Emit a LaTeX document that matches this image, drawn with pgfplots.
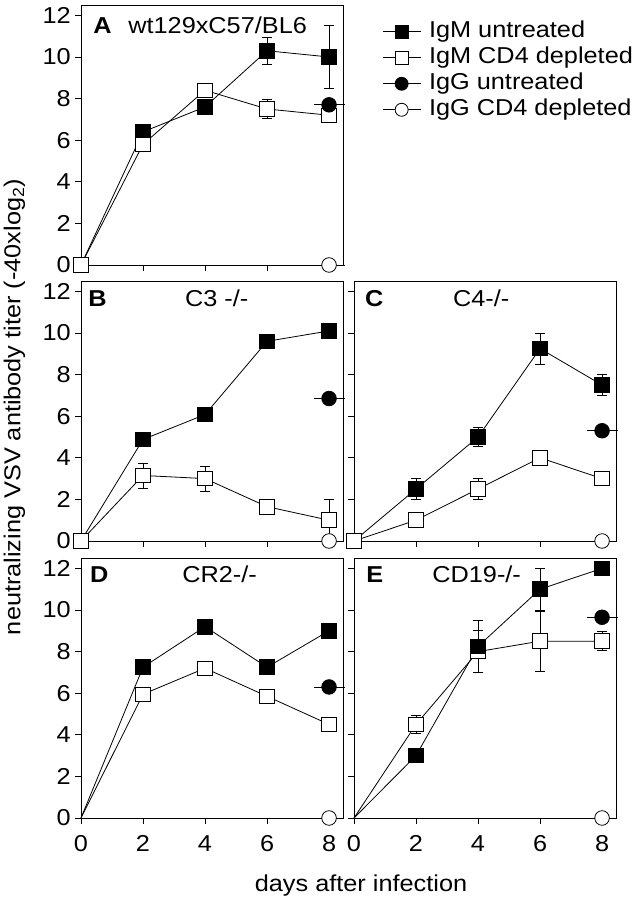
\documentclass[border=0pt]{standalone}
\usepackage{fontspec}
\setmainfont[FakeStretch=1.1]{Liberation Sans}
\usepackage{pgfplots}
\pgfplotsset{compat=1.18}
\newcommand{\fs}{\fontsize{23}{26}\selectfont}
\newcommand{\ft}{\fontsize{23}{26}\selectfont}
\pgfplotsset{
 panel/.style={
  scale only axis, width=262pt, height=260pt,
  xmin=0, xmax=8.45, ymin=0, ymax=12.5,
  xtick={0,2,4,6,8}, ytick={0,2,4,6,8,10,12},
  tick align=outside, tick pos=left, major tick length=6pt,
  clip=false,
  axis line style={line width=0.8pt},
  every tick/.style={black, line width=0.8pt},
  /pgf/number format/assume math mode=true,
  tick label style={font=\fs},
  xticklabel style={inner sep=0pt, yshift=-11pt},
  yticklabel style={inner sep=0pt, xshift=-4pt},
 },
 fsq/.style={black, line width=0.8pt, mark=square*, mark size=7.3pt, mark options={solid, fill=black, line width=0.8pt}},
 osq/.style={black, line width=0.8pt, mark=square*, mark size=7.3pt, mark options={solid, fill=white, line width=0.8pt}},
 fci/.style={black, line width=0.8pt, mark=*, mark size=7.3pt, mark options={solid, fill=black, line width=0.8pt}},
 oci/.style={black, line width=0.8pt, mark=*, mark size=7.3pt, mark options={solid, fill=white, line width=0.8pt}},
 eb/.style={error bars/.cd, y dir=both, y explicit, error bar style={line width=0.8pt, black}, error mark options={rotate=90, mark size=5pt, line width=0.8pt, black}, /pgfplots/.cd},
 hb/.style={error bars/.cd, x dir=both, x fixed=0.5, error mark=none, error bar style={line width=0.8pt, black}, /pgfplots/.cd},
}
\begin{document}
\begin{tikzpicture}
\useasboundingbox (0,0) rectangle (638pt,899pt);
% Panel A
\begin{axis}[panel, at={(81pt,634pt)}, anchor=south west, xticklabels={},
  legend style={draw=none, fill=none, at={(1.149,0.747)}, anchor=west, font=\fs, row sep=3pt, column sep=8pt, inner sep=0pt, nodes={inner sep=0pt, text height=17pt, text depth=6pt}, cells={anchor=west}},
  legend image code/.code={\draw[mark repeat=2,mark phase=2,#1,mark size=6.5pt] plot coordinates {(0pt,0pt) (19pt,0pt) (38pt,0pt)};}]
\addplot[fsq, eb] coordinates {(0,0) +- (0,0) (2,6.4) +- (0,0) (4,7.6) +- (0,0) (6,10.3) +- (0,0.65) (8,10.0) +- (0,1.5)};
\addlegendentry{IgM untreated}
\addplot[osq, eb] coordinates {(0,0) +- (0,0) (2,5.8) +- (0,0) (4,8.4) +- (0,0) (6,7.5) +- (0,0.45) (8,7.2) +- (0,0)};
\addlegendentry{IgM CD4 depleted}
\addplot[fci, hb] coordinates {(8,7.7)};
\addlegendentry{IgG untreated}
\addplot[oci, hb] coordinates {(8,0)};
\addlegendentry{IgG CD4 depleted}
\node[anchor=base west, inner sep=0pt, font=\ft] at (axis cs:0.39,11.15) {\textbf{A}};
\node[anchor=base west, inner sep=0pt, font=\ft] at (axis cs:1.52,11.15) {wt129xC57/BL6};
\end{axis}
% Panel B
\begin{axis}[panel, at={(81pt,358pt)}, anchor=south west, xticklabels={}]
\addplot[fsq] coordinates {(0,0) (2,4.88) (4,6.08) (6,9.6) (8,10.1)};
\addplot[osq, eb] coordinates {(0,0) +- (0,0) (2,3.15) +- (0,0.6) (4,3.0) +- (0,0.6) (6,1.65) +- (0,0) (8,1.0) +- (0,1.0)};
\addplot[fci, hb] coordinates {(8,6.85)};
\addplot[oci] coordinates {(8,0)};
\node[anchor=base west, inner sep=0pt, font=\ft] at (axis cs:0.23,11.25) {\textbf{B}};
\node[anchor=base west, inner sep=0pt, font=\ft] at (axis cs:3.35,11.25) {C3 -/-};
\end{axis}
% Panel C
\begin{axis}[panel, at={(354pt,358pt)}, anchor=south west, xticklabels={}, yticklabels={}]
\addplot[fsq, eb] coordinates {(0,0) +- (0,0) (2,2.5) +- (0,0.5) (4,5.0) +- (0,0.45) (6,9.25) +- (0,0.75) (8,7.5) +- (0,0.5)};
\addplot[osq, eb] coordinates {(0,0) +- (0,0) (2,1.0) +- (0,0) (4,2.5) +- (0,0.5) (6,4.0) +- (0,0) (8,3.0) +- (0,0)};
\addplot[fci, hb] coordinates {(8,5.3)};
\addplot[oci] coordinates {(8,0)};
\node[anchor=base west, inner sep=0pt, font=\ft] at (axis cs:0.35,11.25) {\textbf{C}};
\node[anchor=base west, inner sep=0pt, font=\ft] at (axis cs:3.19,11.25) {C4-/-};
\end{axis}
% Panel D
\begin{axis}[panel, at={(81pt,81pt)}, anchor=south west]
\addplot[fsq, mark indices={2,3,4,5}] coordinates {(0,0) (2,7.25) (4,9.2) (6,7.25) (8,9.0)};
\addplot[osq, mark indices={2,3,4,5}] coordinates {(0,0) (2,5.95) (4,7.2) (6,5.85) (8,4.5)};
\addplot[fci, hb] coordinates {(8,6.3)};
\addplot[oci] coordinates {(8,0)};
\node[anchor=base west, inner sep=0pt, font=\ft] at (axis cs:0.29,11.3) {\textbf{D}};
\node[anchor=base west, inner sep=0pt, font=\ft] at (axis cs:3.26,11.3) {CR2-/-};
\end{axis}
% Panel E
\begin{axis}[panel, at={(354pt,81pt)}, anchor=south west, yticklabels={}]
\addplot[osq, mark indices={2,3,4,5}, eb] coordinates {(0,0) +- (0,0) (2,4.5) +- (0,0.45) (4,8.0) +- (0,1.0) (6,8.5) +- (0,1.45) (8,8.5) +- (0,0.45)};
\addplot[fsq, mark indices={2,3,4,5}, eb] coordinates {(0,0) +- (0,0) (2,3.0) +- (0,0) (4,8.25) +- (0,1.25) (6,11.0) +- (0,1.0) (8,12.0) +- (0,0)};
\addplot[fci, hb] coordinates {(8,9.65)};
\addplot[oci] coordinates {(8,0)};
\node[anchor=base west, inner sep=0pt, font=\ft] at (axis cs:0.39,11.3) {\textbf{E}};
\node[anchor=base west, inner sep=0pt, font=\ft] at (axis cs:2.52,11.3) {CD19-/-};
\end{axis}
\node[rotate=90, anchor=base, inner sep=0pt, font=\fs] at (20.5pt,492pt) {neutralizing VSV antibody titer (-40xlog\textsubscript{2})};
\node[anchor=base, inner sep=0pt, font=\fs] at (361pt,7pt) {days after infection};
\end{tikzpicture}
\end{document}
